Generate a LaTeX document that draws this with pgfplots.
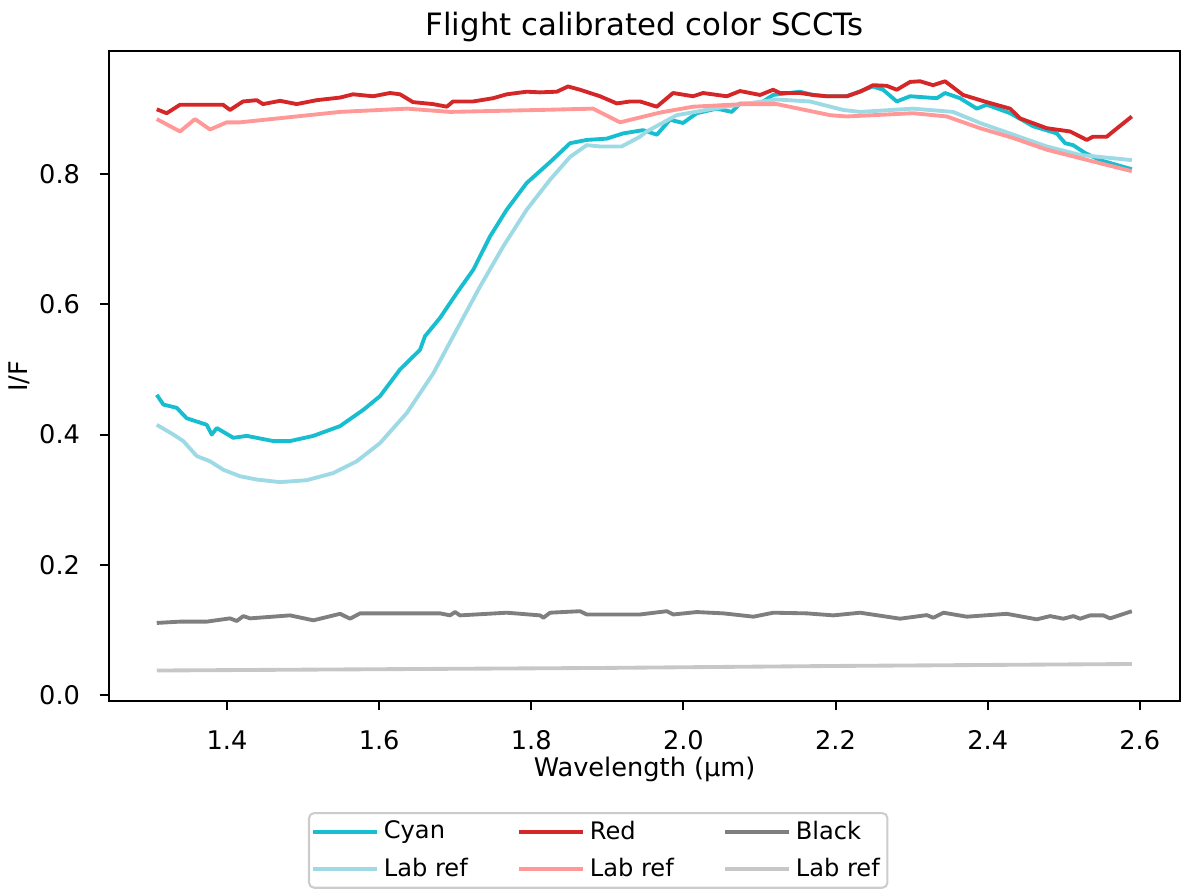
\documentclass[border=0pt]{standalone}
\usepackage{fontspec}
\setmainfont{DejaVu Sans}
\usepackage{pgfplots}
\pgfplotsset{compat=1.18}

\definecolor{cyanc}{HTML}{17BECF}
\definecolor{cyanref}{HTML}{9EDAE5}
\definecolor{redc}{HTML}{D62728}
\definecolor{redref}{HTML}{FF9896}
\definecolor{grayc}{HTML}{7F7F7F}
\definecolor{grayref}{HTML}{C7C7C7}

\begin{document}
\begin{tikzpicture}
\begin{axis}[
    width=417.8pt, height=253.4pt, scale only axis,
    xmin=1.2445, xmax=2.6535,
    ymin=-0.0092, ymax=0.988,
    axis line style={line width=0.8pt},
    tick align=outside, tick pos=left,
    major tick length=3.5pt,
    every tick/.style={black, line width=0.8pt},
    xtick={1.4,1.6,1.8,2.0,2.2,2.4,2.6},
    xticklabels={1.4,1.6,1.8,2.0,2.2,2.4,2.6},
    ytick={0,0.2,0.4,0.6,0.8},
    yticklabels={0.0,0.2,0.4,0.6,0.8},
    xticklabel style={font=\fontsize{10}{12}\selectfont, anchor=base, yshift=-15.1pt},
    yticklabel style={font=\fontsize{10}{12}\selectfont, anchor=east, inner sep=0pt, xshift=-7.5pt},
    title={Flight calibrated color SCCTs},
    title style={font=\fontsize{12}{14}\selectfont, at={(axis description cs:0.5,1)}, anchor=base},
    xlabel={Wavelength (µm)},
    xlabel style={font=\fontsize{10}{12}\selectfont, at={(axis description cs:0.5,0)}, anchor=base, yshift=-29.5pt},
    ylabel={I/F},
    ylabel style={font=\fontsize{10}{12}\selectfont, at={(axis description cs:-0.0754,0.5)}, anchor=base},
    legend columns=3,
    legend cell align=left,
    legend image code/.code={\path (0pt,0pt) -- (24.7pt,0pt); \draw[#1] (0pt,0pt) -- (20pt,0pt);},
    legend style={font=\fontsize{9.4}{11.3}\selectfont, draw=black!20, line width=0.8pt,
        rounded corners=2pt, at={(axis description cs:0.4567,0)}, anchor=north, yshift=-43.2pt,
        row sep=1.8pt, inner sep=1pt,
        /tikz/every even column/.append style={column sep=17.4pt}},
    every axis plot/.append style={line width=1.5pt, line join=round},
]
\coordinate (bl) at (rel axis cs:0,0);
\coordinate (tr) at (rel axis cs:1,1);

% Cyan flight
\addplot[cyanc, forget plot] coordinates {
(1.3076,0.461)(1.3163,0.446)(1.3339,0.441)(1.3470,0.425)(1.3733,0.415)(1.3799,0.400)
(1.3865,0.410)(1.4083,0.395)(1.4259,0.398)(1.4609,0.390)(1.4828,0.390)(1.5135,0.398)
(1.5486,0.413)(1.5792,0.438)(1.6012,0.459)(1.6275,0.500)(1.6537,0.530)(1.6603,0.551)
(1.6800,0.579)(1.7020,0.617)(1.7238,0.653)(1.7458,0.704)(1.7677,0.745)(1.7940,0.786)
(1.8247,0.818)(1.8510,0.847)(1.8729,0.852)(1.8992,0.854)(1.9207,0.862)(1.9469,0.867)
(1.9650,0.860)(1.9824,0.883)(1.9995,0.878)(2.0175,0.893)(2.0438,0.900)(2.0636,0.895)
(2.0745,0.908)(2.1008,0.908)(2.1179,0.921)(2.1534,0.926)(2.1705,0.921)(2.1885,0.919)
(2.2148,0.919)(2.2493,0.934)(2.2625,0.929)(2.2805,0.911)(2.2980,0.919)(2.3331,0.916)
(2.3440,0.924)(2.3637,0.916)(2.3857,0.900)(2.3988,0.906)(2.4295,0.893)(2.4597,0.873)
(2.4909,0.862)(2.5018,0.847)(2.5123,0.844)(2.5281,0.832)(2.5478,0.821)(2.5895,0.807)
};
% Cyan lab ref
\addplot[cyanref, forget plot] coordinates {
(1.3076,0.415)(1.3294,0.400)(1.3425,0.390)(1.3602,0.367)(1.3776,0.359)(1.3951,0.346)
(1.4171,0.336)(1.4390,0.331)(1.4697,0.327)(1.5048,0.330)(1.5398,0.341)(1.5705,0.359)
(1.6012,0.387)(1.6363,0.433)(1.6712,0.494)(1.7020,0.561)(1.7326,0.627)(1.7633,0.689)
(1.7940,0.745)(1.8247,0.791)(1.8510,0.826)(1.8729,0.844)(1.8904,0.842)(1.9189,0.842)
(1.9430,0.857)(1.9518,0.865)(1.9912,0.890)(2.0350,0.899)(2.0784,0.907)(2.1227,0.914)
(2.1665,0.911)(2.2099,0.898)(2.2323,0.895)(2.3019,0.900)(2.3545,0.895)(2.3900,0.878)
(2.4777,0.842)(2.5215,0.829)(2.5895,0.821)
};
% Red flight
\addplot[redc, forget plot] coordinates {
(1.3076,0.899)(1.3207,0.893)(1.3382,0.906)(1.3645,0.906)(1.3947,0.906)(1.4039,0.898)
(1.4210,0.911)(1.4390,0.913)(1.4473,0.907)(1.4697,0.912)(1.4916,0.907)(1.5179,0.913)
(1.5486,0.917)(1.5657,0.922)(1.5920,0.919)(1.6143,0.924)(1.6275,0.922)(1.6445,0.910)
(1.6708,0.907)(1.6889,0.903)(1.6971,0.911)(1.7234,0.911)(1.7497,0.916)(1.7677,0.922)
(1.7940,0.926)(1.8115,0.925)(1.8335,0.926)(1.8483,0.934)(1.8641,0.929)(1.8904,0.919)
(1.9124,0.908)(1.9299,0.911)(1.9430,0.911)(1.9650,0.903)(1.9864,0.924)(2.0127,0.919)
(2.0258,0.924)(2.0570,0.919)(2.0745,0.927)(2.1008,0.921)(2.1179,0.929)(2.1271,0.924)
(2.1534,0.924)(2.1705,0.921)(2.1885,0.919)(2.2148,0.919)(2.2323,0.926)(2.2493,0.936)
(2.2673,0.935)(2.2805,0.929)(2.2980,0.941)(2.3111,0.942)(2.3282,0.936)(2.3440,0.942)
(2.3677,0.921)(2.3988,0.910)(2.4295,0.900)(2.4426,0.885)(2.4777,0.870)(2.5083,0.865)
(2.5303,0.852)(2.5386,0.857)(2.5566,0.857)(2.5649,0.865)(2.5895,0.888)
};
% Red lab ref
\addplot[redref, forget plot] coordinates {
(1.3076,0.884)(1.3382,0.865)(1.3579,0.884)(1.3776,0.868)(1.3996,0.879)(1.4171,0.879)
(1.5486,0.895)(1.6363,0.900)(1.6932,0.895)(1.8115,0.898)(1.8812,0.900)(1.9167,0.879)
(1.9693,0.894)(2.0127,0.903)(2.0784,0.907)(2.1227,0.907)(2.1928,0.890)(2.2148,0.888)
(2.3019,0.893)(2.3462,0.888)(2.3900,0.870)(2.4334,0.855)(2.4777,0.837)(2.5215,0.824)
(2.5895,0.804)
};
% Black flight
\addplot[grayc, forget plot] coordinates {
(1.3076,0.111)(1.3382,0.113)(1.3733,0.113)(1.4039,0.118)(1.4128,0.114)(1.4214,0.1215)
(1.4302,0.118)(1.4828,0.1226)(1.5135,0.115)(1.5486,0.125)(1.5617,0.1175)(1.5749,0.1257)
(1.6800,0.1257)(1.6932,0.1226)(1.6998,0.1277)(1.7063,0.1226)(1.7677,0.1267)(1.8115,0.1226)
(1.8159,0.119)(1.8247,0.1267)(1.8641,0.129)(1.8729,0.124)(1.9430,0.124)(1.9781,0.129)
(1.9868,0.124)(2.0175,0.1277)(2.0525,0.1257)(2.0920,0.1206)(2.1183,0.1267)(2.1622,0.1257)
(2.1971,0.1226)(2.2323,0.1267)(2.2848,0.1175)(2.3199,0.123)(2.3286,0.119)(2.3418,0.1267)
(2.3725,0.1206)(2.4251,0.125)(2.4646,0.1165)(2.4821,0.1215)(2.4996,0.1175)(2.5127,0.1215)
(2.5215,0.1175)(2.5346,0.1226)(2.5521,0.1226)(2.5609,0.118)(2.5895,0.129)
};
% Black lab ref
\addplot[grayref, forget plot] coordinates {
(1.3076,0.038)(1.6000,0.040)(1.9000,0.042)(2.2000,0.045)(2.5895,0.048)
};

\addlegendimage{cyanc, line width=1.5pt}
\addlegendentry{Cyan}
\addlegendimage{redc, line width=1.5pt}
\addlegendentry{Red}
\addlegendimage{grayc, line width=1.5pt}
\addlegendentry{Black}
\addlegendimage{cyanref, line width=1.5pt}
\addlegendentry{Lab ref}
\addlegendimage{redref, line width=1.5pt}
\addlegendentry{Lab ref}
\addlegendimage{grayref, line width=1.5pt}
\addlegendentry{Lab ref}
\end{axis}
\pgfresetboundingbox
\path ([shift={(-42.4pt,-74.3pt)}]bl) rectangle ([shift={(0.2pt,20.0pt)}]tr);
\end{tikzpicture}
\end{document}
